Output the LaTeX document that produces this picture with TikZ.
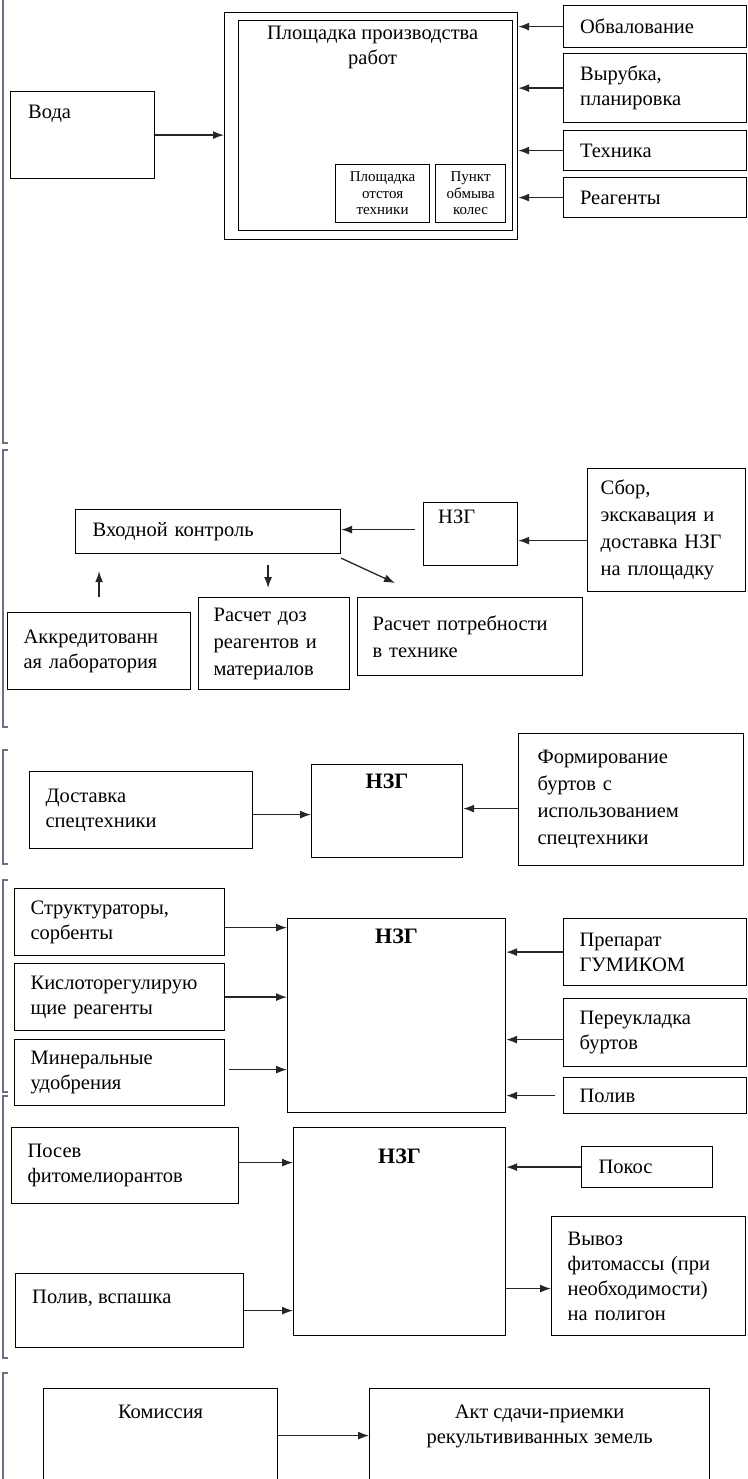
\documentclass[tikz,border=0pt]{standalone}
\usepackage{fontspec}
\setmainfont{Liberation Serif}
\usetikzlibrary{arrows.meta,positioning,calc}
\definecolor{rkgrey}{rgb}{0.42,0.45,0.50}

\begin{document}
\begin{tikzpicture}[
  x=1pt, y=-1pt,
  font=\fontsize{20.5}{25}\selectfont,
  box/.style={draw, line width=1.2pt, inner sep=0pt, anchor=north west, align=left},
  lbl/.style={anchor=north west, inner sep=0pt, align=left},
  head/.style={lbl, anchor=north, align=center},
  bold/.style={head, font=\fontsize{22}{26}\selectfont\bfseries},
  tiny/.style={box, align=center, font=\fontsize{15}{16.5}\selectfont},
  arr/.style={-{Latex[length=11pt,width=8pt]}, line width=1.3pt, black!85},
  brk/.style={rkgrey, line width=1.2pt}
]
\useasboundingbox (0,0) rectangle (747,1479);
\clip (0,0) rectangle (747,1479);

% section brackets on the left
\draw[brk] (3,0) -- (3,443) -- (8,443);
\foreach \a/\b in {450/727, 750/864, 880/1092, 1096/1358}
  \draw[brk] (8,\a) -- (3,\a) -- (3,\b) -- (8,\b);
\draw[brk] (8,1373) -- (3,1373) -- (3,1479);

% --- site ---
\node[box, minimum width=144pt, minimum height=87pt,
  label={[lbl, xshift=18pt, yshift=-14pt]north west:Вода}] (voda) at (10,91) {};
\node[box, minimum width=293pt, minimum height=227pt] (site) at (224,12) {};
\node[box, minimum width=274pt, minimum height=210pt,
  label={[head, xshift=-3pt, yshift=-6pt]north:{Площадка производства\\работ}}] (siteIn) at (238,20) {};
\node[tiny, minimum width=94pt, minimum height=58pt, text width=90pt] (park) at (335,164) {Площадка\\отстоя\\техники};
\node[tiny, minimum width=70pt, minimum height=58pt, text width=66pt] (wash) at (435,164) {Пункт\\обмыва\\колес};

\node[box, minimum height=42pt, text width=150pt, inner xsep=16.5pt] (obv) at (563,5) {Обвалование};
\node[box, minimum height=69pt, text width=150pt, inner xsep=16.5pt] (vyr) at (563,53) {Вырубка,\\планировка};
\node[box, minimum height=40pt, text width=150pt, inner xsep=16.5pt] (teh) at (563,130) {Техника};
\node[box, minimum height=40pt, text width=150pt, inner xsep=16.5pt] (reag) at (563,177) {Реагенты};

\draw[arr] (voda.east) -- (voda.east -| site.west);
\draw[arr] (obv.west) -- (obv.west -| site.east);
\draw[arr] (vyr.west) -- (vyr.west -| site.east);
\draw[arr] (teh.west) -- (teh.west -| site.east);
\draw[arr] (reag.west) -- (reag.west -| site.east);

% --- input control ---
\node[box, minimum height=44pt, text width=231pt, inner xsep=17pt] (vk) at (75,509) {Входной контроль};
\node[box, minimum width=94pt, minimum height=63pt,
  label={[lbl, xshift=15pt, yshift=-8pt]north west:НЗГ}] (nzg1) at (423,502) {};
\node[box, minimum height=123pt, text width=132pt, inner xsep=13pt] (sbor) at (587,468)
  {Сбор,\\[2pt]экскавация и\\[2pt]доставка НЗГ\\[2pt]на площадку};
\node[box, minimum height=77pt, text width=151pt, inner xsep=16pt] (lab) at (7,612) {Аккредитованн\\ая лаборатория};
\node[box, minimum height=92pt, text width=121pt, inner xsep=15pt] (doz) at (198,597)
  {Расчет доз\\[2pt]реагентов и\\[2pt]материалов};
\node[box, minimum height=78pt, text width=195pt, inner xsep=15pt] (potr) at (357,597) {Расчет потребности\\[2pt]в технике};

\draw[arr, shorten <=8pt] ([yshift=4.5pt]nzg1.west) -- ([yshift=4.5pt]nzg1.west -| vk.east);
\draw[arr] ([yshift=-10.5pt]sbor.west) -- ([yshift=-10.5pt]sbor.west -| nzg1.east);
\draw[arr, shorten <=15pt, shorten >=17pt] (lab.north) -- (lab.north |- vk.south);
\draw[arr, shorten <=11pt, shorten >=9pt] ([xshift=-6pt]doz.north |- vk.south) -- ([xshift=-6pt]doz.north);
\draw[arr] ([shift={(0,4)}]vk.south east) -- ([shift={(38,-14)}]potr.north west);

% --- heaps ---
\node[box, minimum height=77pt, text width=191pt, inner xsep=16pt] (dost) at (29,771) {Доставка\\спецтехники};
\node[box, minimum width=151pt, minimum height=93pt,
  label={[bold, yshift=-10pt]north:НЗГ}] (nzg2) at (311,764) {};
\node[box, minimum height=132pt, text width=187pt, inner xsep=19pt] (form) at (518,733)
  {Формирование\\[2pt]буртов с\\[2pt]использованием\\[2pt]спецтехники};

\draw[arr] ([yshift=-4.5pt]dost.east) -- ([yshift=-4.5pt]dost.east -| nzg2.west);
\draw[arr] ([yshift=-9pt]form.west) -- ([yshift=-9pt]form.west -| nzg2.east);

% --- amendments ---
\node[box, minimum height=67pt, text width=178pt, inner xsep=16pt] (str) at (14,888) {Структураторы,\\сорбенты};
\node[box, minimum height=67pt, text width=178pt, inner xsep=16pt] (kisl) at (14,963) {Кислоторегулирую\\щие реагенты};
\node[box, minimum height=66pt, text width=178pt, inner xsep=16pt] (min) at (14,1039) {Минеральные\\удобрения};
\node[box, minimum width=218pt, minimum height=194pt,
  label={[bold, yshift=-11pt]north:НЗГ}] (nzg3) at (287,918) {};
\node[box, minimum height=67pt, text width=151pt, inner xsep=16pt] (prep) at (563,918) {Препарат\\ГУМИКОМ};
\node[box, minimum height=68pt, text width=151pt, inner xsep=16pt] (pere) at (563,998) {Переукладка\\буртов};
\node[box, minimum height=36pt, text width=151pt, inner xsep=16pt] (poliv) at (563,1077) {Полив};

\draw[arr] ([yshift=-5.5pt]str.east) -- ([yshift=-5.5pt]str.east -| nzg3.west);
\draw[arr] (kisl.east) -- (kisl.east -| nzg3.west);
\draw[arr, shorten <=4pt] ([yshift=3pt]min.east) -- ([yshift=3pt]min.east -| nzg3.west);
\draw[arr] (prep.west) -- (prep.west -| nzg3.east);
\draw[arr] ([yshift=-7pt]pere.west) -- ([yshift=-7pt]pere.west -| nzg3.east);
\draw[arr, shorten <=8pt] (poliv.west) -- (poliv.west -| nzg3.east);

% --- phyto stage ---
\node[box, minimum height=76pt, text width=195pt, inner xsep=16pt] (posev) at (11,1127) {Посев\\фитомелиорантов};
\node[box, minimum width=212pt, minimum height=208pt,
  label={[bold, yshift=-22pt]north:НЗГ}] (nzg4) at (293,1127) {};
\node[box, minimum height=41pt, text width=97pt, inner xsep=17pt] (pokos) at (581,1146) {Покос};
\node[box, minimum height=119pt, text width=162pt, inner xsep=16pt] (vyv) at (551,1216)
  {Вывоз\\фитомассы (при\\необходимости)\\на полигон};
\node[box, minimum width=228pt, minimum height=74pt,
  label={[lbl, xshift=17pt, yshift=-17pt]north west:{Полив, вспашка}}] (polvsp) at (15,1273) {};

\draw[arr] ([yshift=3pt]posev.east) -- ([yshift=3pt]posev.east -| nzg4.west);
\draw[arr] (pokos.west) -- (pokos.west -| nzg4.east);
\draw[arr] ([yshift=-12.5pt]vyv.west -| nzg4.east) -- ([yshift=-12.5pt]vyv.west);
\draw[arr] (polvsp.east) -- (polvsp.east -| nzg4.west);

% --- acceptance ---
\node[box, minimum width=234pt, minimum height=130pt,
  label={[head, yshift=-17pt]north:Комиссия}] (kom) at (43,1388) {};
\node[box, minimum width=340pt, minimum height=130pt,
  label={[head, yshift=-17pt]north:{Акт сдачи-приемки\\рекультививанных земель}}] (akt) at (369,1388) {};

\draw[arr] ([yshift=18pt]kom.east) -- ([yshift=18pt]kom.east -| akt.west);

\end{tikzpicture}
\end{document}
